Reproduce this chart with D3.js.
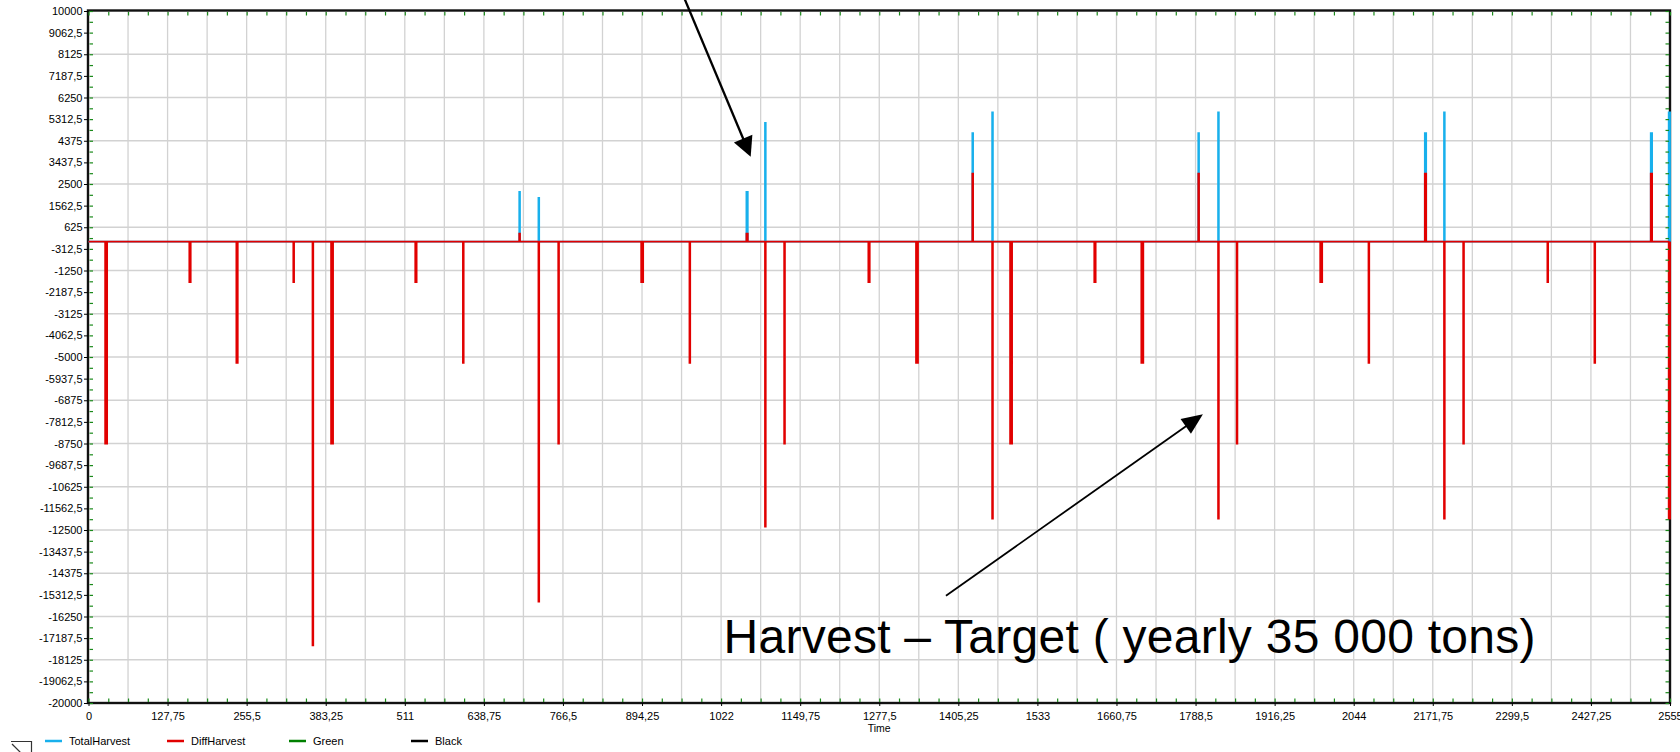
<!DOCTYPE html>
<html>
<head>
<meta charset="utf-8">
<script src="https://cdn.jsdelivr.net/npm/d3@7"></script>
<style>
  html, body { margin: 0; padding: 0; background: #ffffff; overflow: hidden; }
  svg { display: block; }
  text { font-family: "Liberation Sans", Arial, sans-serif; }
</style>
</head>
<body>
<script>
// ---------------- DATA ----------------
// Time axis (days) and value axis
const timeDomain = [0, 2555];
const valueDomain = [-20000, 10000];

// DiffHarvest (Harvest - Target): spike start day, value, duration (days)
const diffDays   = [27, 163, 239, 331, 362, 392, 528, 605, 696, 727, 759, 893, 971, 1063, 1093, 1124, 1260, 1337, 1428, 1460, 1489, 1625, 1701, 1793, 1825, 1855, 1990, 2068, 2159, 2190, 2221, 2357, 2433, 2524, 2553];
const diffValues = [-8750, -1750, -5250, -1750, -17500, -8750, -1750, -5250, 350, -15600, -8750, -1750, -5250, 350, -12350, -8750, -1750, -5250, 2950, -12000, -8750, -1750, -5250, 2950, -12000, -8750, -1750, -5250, 2950, -12000, -8750, -1750, -5250, 2950, -12000];
const diffDur    = [3, 2, 2, 1, 1, 3, 2, 1, 1, 1, 1, 3, 1, 2, 1, 1, 2, 3, 1, 1, 3, 2, 3, 1, 1, 1, 3, 1, 2, 1, 1, 1, 1, 2, 2];

// TotalHarvest: spike start day, value, duration (days)
const totalDays   = [696, 727, 1063, 1093, 1428, 1460, 1793, 1825, 2159, 2190, 2524, 2553];
const totalValues = [2150, 1900, 2150, 5150, 4700, 5600, 4700, 5600, 4700, 5600, 4700, 5600];
const totalDur    = [1, 1, 2, 1, 1, 1, 1, 1, 2, 1, 2, 2];

// Tick labels
const xTickLabels = ["0","127,75","255,5","383,25","511","638,75","766,5","894,25","1022","1149,75","1277,5","1405,25","1533","1660,75","1788,5","1916,25","2044","2171,75","2299,5","2427,25","2555"];
const yTickLabels = ["10000","9062,5","8125","7187,5","6250","5312,5","4375","3437,5","2500","1562,5","625","-312,5","-1250","-2187,5","-3125","-4062,5","-5000","-5937,5","-6875","-7812,5","-8750","-9687,5","-10625","-11562,5","-12500","-13437,5","-14375","-15312,5","-16250","-17187,5","-18125","-19062,5","-20000"];
const xAxisTitle = "Time";

// Legend
const legendNames  = ["TotalHarvest", "DiffHarvest", "Green", "Black"];
const legendColors = ["#18b0ec", "#e10000", "#008000", "#000000"];

// Annotations (positions in data units: [day, value])
const annotationText = "Harvest \u2013 Target ( yearly 35 000 tons)";
const annotationTextAt = [1025.9, -17832];
const arrow1 = [[960.4, 10694], [1069.8, 3684]];
const arrow2 = [[1385.3, -15348], [1800.4, -7484]];

// ---------------- DRAWING ----------------
const W = 1680, H = 752;
const plot = { left: 88.5, right: 1670, top: 11, bottom: 703 };

const svg = d3.select("body").append("svg").attr("width", W).attr("height", H);

const x = d3.scaleLinear().domain(timeDomain).range([plot.left, plot.right]);
const y = d3.scaleLinear().domain(valueDomain).range([plot.bottom, plot.top]);

const parseLabel = s => +s.replace(",", ".");
const xTickVals = xTickLabels.map(parseLabel);
const yTickVals = yTickLabels.map(parseLabel);

// grid
const gridX = d3.range(1, 40).map(i => i * (timeDomain[1] / 40));
const gridY = d3.range(1, 16).map(i => valueDomain[1] - i * ((valueDomain[1] - valueDomain[0]) / 16));
const grid = svg.append("g").attr("stroke", "#d2d2d2").attr("stroke-width", 1.3);
grid.selectAll("line.gx").data(gridX).join("line").attr("class", "gx")
  .attr("x1", d => x(d)).attr("x2", d => x(d)).attr("y1", plot.top).attr("y2", plot.bottom);
grid.selectAll("line.gy").data(gridY).join("line").attr("class", "gy")
  .attr("x1", plot.left).attr("x2", plot.right).attr("y1", d => y(d)).attr("y2", d => y(d));

// frame
svg.append("rect")
  .attr("x", plot.left - 0.5).attr("y", plot.top - 0.5)
  .attr("width", plot.right - plot.left + 0.5).attr("height", plot.bottom - plot.top + 0.5)
  .attr("fill", "none").attr("stroke", "#111").attr("stroke-width", 2.4);

// series paths
function spikePoints(days, values, durs) {
  const pts = [[timeDomain[0], 0]];
  days.forEach((d, i) => {
    const e = Math.min(d + durs[i], timeDomain[1]);
    pts.push([d, 0], [d, values[i]], [e, values[i]], [e, 0]);
  });
  pts.push([timeDomain[1], 0]);
  return pts;
}
const line = d3.line().x(d => x(d[0])).y(d => y(d[1]));

svg.append("path")
  .attr("d", line(spikePoints(totalDays, totalValues, totalDur)))
  .attr("fill", "none").attr("stroke", legendColors[0]).attr("stroke-width", 1.9)
  .attr("stroke-linejoin", "miter");
svg.append("path")
  .attr("d", line(spikePoints(diffDays, diffValues, diffDur)))
  .attr("fill", "none").attr("stroke", legendColors[1]).attr("stroke-width", 1.9)
  .attr("stroke-linejoin", "miter");

// minor green ticks (inside, all 4 sides)
const minorY = d3.range(0, 65).map(i => valueDomain[0] + i * ((valueDomain[1] - valueDomain[0]) / 64));
const minorX = d3.range(0, 81).map(i => i * (timeDomain[1] / 80));
const gt = svg.append("g").attr("stroke", "#1a8a1a").attr("stroke-width", 1.2);
gt.append("g").attr("transform", `translate(${plot.left + 1},0)`)
  .call(d3.axisRight(y).tickValues(minorY).tickSize(3.5).tickFormat(""))
  .call(g => g.select(".domain").remove()).selectAll("line").attr("stroke", "#1a8a1a");
gt.append("g").attr("transform", `translate(${plot.right - 1},0)`)
  .call(d3.axisLeft(y).tickValues(minorY).tickSize(3.5).tickFormat(""))
  .call(g => g.select(".domain").remove()).selectAll("line").attr("stroke", "#1a8a1a");
gt.append("g").attr("transform", `translate(0,${plot.top + 1})`)
  .call(d3.axisBottom(x).tickValues(minorX).tickSize(3.5).tickFormat(""))
  .call(g => g.select(".domain").remove()).selectAll("line").attr("stroke", "#1a8a1a");
gt.append("g").attr("transform", `translate(0,${plot.bottom - 1})`)
  .call(d3.axisTop(x).tickValues(minorX).tickSize(3.5).tickFormat(""))
  .call(g => g.select(".domain").remove()).selectAll("line").attr("stroke", "#1a8a1a");

// labelled axes
const yAxis = svg.append("g").attr("transform", `translate(${plot.left - 0.5},0)`)
  .call(d3.axisLeft(y).tickValues(yTickVals).tickFormat((d, i) => yTickLabels[i]).tickSize(4).tickPadding(1.5));
yAxis.select(".domain").remove();
yAxis.selectAll("line").attr("stroke", "#000");
yAxis.selectAll("text").attr("font-size", 11).attr("fill", "#000")
  .attr("font-family", "'Liberation Sans', Arial, sans-serif");

const xAxis = svg.append("g").attr("transform", `translate(0,${plot.bottom})`)
  .call(d3.axisBottom(x).tickValues(xTickVals).tickFormat((d, i) => xTickLabels[i]).tickSize(3).tickPadding(6));
xAxis.select(".domain").remove();
xAxis.selectAll("line").attr("stroke", "#000");
xAxis.selectAll("text").attr("font-size", 11).attr("fill", "#000")
  .attr("font-family", "'Liberation Sans', Arial, sans-serif");

svg.append("text").text(xAxisTitle)
  .attr("x", (plot.left + plot.right) / 2).attr("y", 731.5)
  .attr("text-anchor", "middle").attr("font-size", 10.5).attr("fill", "#000");

// legend
const lg = svg.append("g").selectAll("g").data(legendNames).join("g")
  .attr("transform", (d, i) => `translate(${45 + i * 122},741)`);
lg.append("line").attr("x1", 0).attr("x2", 17).attr("y1", 0).attr("y2", 0)
  .attr("stroke", (d, i) => legendColors[i]).attr("stroke-width", 2.5);
lg.append("text").text(d => d).attr("x", 24).attr("y", 4)
  .attr("font-size", 11).attr("fill", "#000");

// small corner icon at bottom-left
const icon = svg.append("g").attr("stroke", "#333").attr("stroke-width", 1.2).attr("fill", "none");
icon.append("path").attr("d", "M11,741.5 H31.5 V753");
icon.append("path").attr("d", "M12,744 L21,753");

// annotations
function drawArrow(a, len, half, width) {
  const p0 = [x(a[0][0]), y(a[0][1])], p1 = [x(a[1][0]), y(a[1][1])];
  const dx = p1[0] - p0[0], dy = p1[1] - p0[1], L = Math.hypot(dx, dy);
  const ux = dx / L, uy = dy / L;
  const bx = p1[0] - ux * len, by = p1[1] - uy * len;
  svg.append("line").attr("x1", p0[0]).attr("y1", p0[1]).attr("x2", bx + ux * 2).attr("y2", by + uy * 2)
    .attr("stroke", "#000").attr("stroke-width", width);
  svg.append("polygon")
    .attr("points", [[p1[0], p1[1]], [bx - uy * half, by + ux * half], [bx + uy * half, by - ux * half]].map(p => p.join(",")).join(" "))
    .attr("fill", "#000");
}
drawArrow(arrow1, 19.5, 10, 2.3);
drawArrow(arrow2, 21, 9, 1.8);

svg.append("text").text(annotationText)
  .attr("x", x(annotationTextAt[0])).attr("y", y(annotationTextAt[1]))
  .attr("font-size", 48).attr("fill", "#000")
  .attr("textLength", 812).attr("lengthAdjust", "spacing");
</script>
</body>
</html>
